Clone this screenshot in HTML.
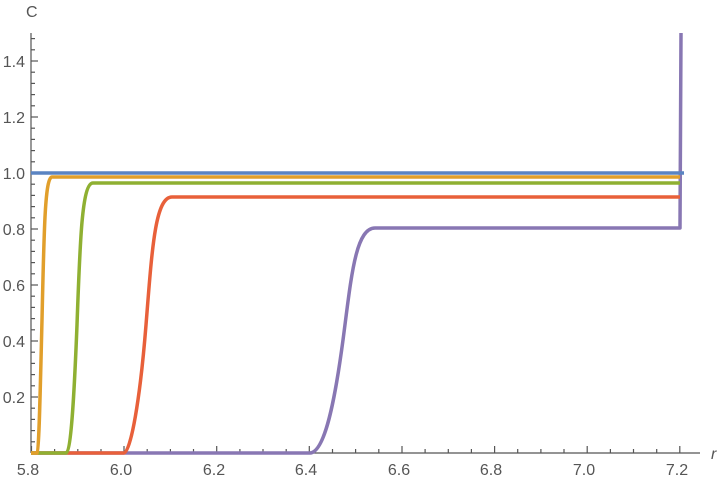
<!DOCTYPE html>
<html><head><style>body{margin:0;background:#fff}svg text{font-family:"Liberation Sans",sans-serif;fill:#555;font-size:16px}</style></head><body>
<svg width="720" height="483" viewBox="0 0 720 483">
<g stroke="#555" stroke-width="1.2">
<line x1="31" y1="33" x2="31" y2="453"/>
<line x1="31" y1="453" x2="700" y2="453"/>
<g>
<line x1="31" y1="397" x2="38" y2="397"/><line x1="31" y1="341" x2="38" y2="341"/><line x1="31" y1="285" x2="38" y2="285"/><line x1="31" y1="229" x2="38" y2="229"/><line x1="31" y1="173" x2="38" y2="173"/><line x1="31" y1="117" x2="38" y2="117"/><line x1="31" y1="61" x2="38" y2="61"/>
<line x1="31" y1="441.8" x2="35" y2="441.8"/><line x1="31" y1="430.6" x2="35" y2="430.6"/><line x1="31" y1="419.4" x2="35" y2="419.4"/><line x1="31" y1="408.2" x2="35" y2="408.2"/>
<line x1="31" y1="385.8" x2="35" y2="385.8"/><line x1="31" y1="374.6" x2="35" y2="374.6"/><line x1="31" y1="363.4" x2="35" y2="363.4"/><line x1="31" y1="352.2" x2="35" y2="352.2"/>
<line x1="31" y1="329.8" x2="35" y2="329.8"/><line x1="31" y1="318.6" x2="35" y2="318.6"/><line x1="31" y1="307.4" x2="35" y2="307.4"/><line x1="31" y1="296.2" x2="35" y2="296.2"/>
<line x1="31" y1="273.8" x2="35" y2="273.8"/><line x1="31" y1="262.6" x2="35" y2="262.6"/><line x1="31" y1="251.4" x2="35" y2="251.4"/><line x1="31" y1="240.2" x2="35" y2="240.2"/>
<line x1="31" y1="217.8" x2="35" y2="217.8"/><line x1="31" y1="206.6" x2="35" y2="206.6"/><line x1="31" y1="195.4" x2="35" y2="195.4"/><line x1="31" y1="184.2" x2="35" y2="184.2"/>
<line x1="31" y1="161.8" x2="35" y2="161.8"/><line x1="31" y1="150.6" x2="35" y2="150.6"/><line x1="31" y1="139.4" x2="35" y2="139.4"/><line x1="31" y1="128.2" x2="35" y2="128.2"/>
<line x1="31" y1="105.8" x2="35" y2="105.8"/><line x1="31" y1="94.6" x2="35" y2="94.6"/><line x1="31" y1="83.4" x2="35" y2="83.4"/><line x1="31" y1="72.2" x2="35" y2="72.2"/>
<line x1="31" y1="49.8" x2="35" y2="49.8"/><line x1="31" y1="38.6" x2="35" y2="38.6"/>
</g>
<g>
<line x1="31.5" y1="453" x2="31.5" y2="446"/><line x1="124" y1="453" x2="124" y2="446"/><line x1="216.7" y1="453" x2="216.7" y2="446"/><line x1="309.3" y1="453" x2="309.3" y2="446"/><line x1="402" y1="453" x2="402" y2="446"/><line x1="494.6" y1="453" x2="494.6" y2="446"/><line x1="587.2" y1="453" x2="587.2" y2="446"/><line x1="679.8" y1="453" x2="679.8" y2="446"/>
<line x1="54.6" y1="453" x2="54.6" y2="449"/><line x1="77.8" y1="453" x2="77.8" y2="449"/><line x1="101" y1="453" x2="101" y2="449"/><line x1="147.2" y1="453" x2="147.2" y2="449"/><line x1="170.4" y1="453" x2="170.4" y2="449"/><line x1="193.5" y1="453" x2="193.5" y2="449"/><line x1="239.9" y1="453" x2="239.9" y2="449"/><line x1="263" y1="453" x2="263" y2="449"/><line x1="286.2" y1="453" x2="286.2" y2="449"/><line x1="332.5" y1="453" x2="332.5" y2="449"/><line x1="355.6" y1="453" x2="355.6" y2="449"/><line x1="378.8" y1="453" x2="378.8" y2="449"/><line x1="425.1" y1="453" x2="425.1" y2="449"/><line x1="448.3" y1="453" x2="448.3" y2="449"/><line x1="471.4" y1="453" x2="471.4" y2="449"/><line x1="517.7" y1="453" x2="517.7" y2="449"/><line x1="540.9" y1="453" x2="540.9" y2="449"/><line x1="564" y1="453" x2="564" y2="449"/><line x1="610.4" y1="453" x2="610.4" y2="449"/><line x1="633.5" y1="453" x2="633.5" y2="449"/><line x1="656.7" y1="453" x2="656.7" y2="449"/>
</g>
</g>
<g text-anchor="end">
<text x="25" y="403">0.2</text><text x="25" y="347">0.4</text><text x="25" y="291">0.6</text><text x="25" y="235">0.8</text><text x="25" y="179">1.0</text><text x="25" y="123">1.2</text><text x="25" y="67">1.4</text>
</g>
<g text-anchor="middle">
<text x="28" y="475">5.8</text><text x="121" y="475">6.0</text><text x="214" y="475">6.2</text><text x="306" y="475">6.4</text><text x="399" y="475">6.6</text><text x="491" y="475">6.8</text><text x="584" y="475">7.0</text><text x="677" y="475">7.2</text>
</g>
<text x="26" y="17" font-size="15">C</text>
<text x="711" y="459" font-style="italic" font-size="15">r</text>
<g fill="none" stroke-width="3.5" stroke-linejoin="round">
<path d="M31,453 L310,453 C325,452 335,400 343,340 C351,280 355,228 375,228 L680,228 L681,33" stroke="#8877b3"/>
<path d="M31,453 L124,453 C131,451 140,400 146,325 C152,250 155,197 172,197 L680,197" stroke="#e8603a"/>
<path d="M31,453 L66,453 C71,451 74,400 77,325 C80,240 82,183 93,183 L680,183" stroke="#8fb032"/>
<path d="M31,453 L37,453 C39,451 40,400 42,320 C44,230 45,177 52,177 L680,177" stroke="#e19f2b"/>
<path d="M31,173 L684,173" stroke="#5a84c2"/>
</g>
</svg>
</body></html>
